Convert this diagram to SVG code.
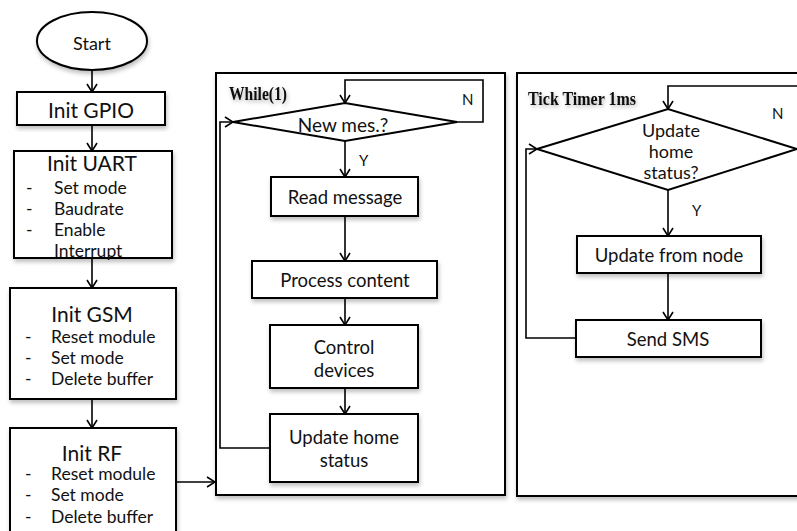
<svg xmlns="http://www.w3.org/2000/svg" width="797" height="531" viewBox="0 0 797 531">
<defs>
<style>
.box{fill:#fff;stroke:#000;stroke-width:2;filter:url(#sh)}
.frame{fill:#fff;stroke:#000;stroke-width:2;filter:url(#sh)}
.ln{fill:none;stroke:#000;stroke-width:1.6}
.t{font-family:Lato,"Liberation Sans",sans-serif;font-size:18.5px;fill:#111;text-anchor:middle;dominant-baseline:central}
.dt{font-family:Lato,"Liberation Sans",sans-serif;font-size:18px;fill:#111;text-anchor:middle;dominant-baseline:central}
.tt{font-family:Lato,"Liberation Sans",sans-serif;font-size:21px;fill:#111;text-anchor:middle;dominant-baseline:central}
.it{font-family:Lato,"Liberation Sans",sans-serif;font-size:17.5px;fill:#111;dominant-baseline:central}
.lb{font-family:Lato,"Liberation Sans",sans-serif;font-size:15px;fill:#111;dominant-baseline:central}
.hd{font-family:"Liberation Serif",serif;font-weight:bold;font-size:19px;fill:#111;dominant-baseline:central;filter:url(#gl)}
</style>
<filter id="sh" x="-10%" y="-10%" width="130%" height="130%">
<feDropShadow dx="1" dy="3" stdDeviation="2" flood-color="#000" flood-opacity="0.25"/>
</filter>
<filter id="gl" x="-20%" y="-40%" width="140%" height="200%">
<feDropShadow dx="1" dy="2" stdDeviation="2" flood-color="#000" flood-opacity="0.3"/>
</filter>
<marker id="ar" viewBox="0 0 10 12" refX="9" refY="6" markerWidth="10" markerHeight="12" markerUnits="userSpaceOnUse" orient="auto">
<path d="M1,1 L9,6 L1,11" fill="none" stroke="#000" stroke-width="1.6"/>
</marker>
</defs>

<g id="while-frame">
<rect class="frame" x="216" y="73" width="289" height="422"/>
<text class="hd" x="229" y="93" textLength="58" lengthAdjust="spacingAndGlyphs">While(1)</text>
</g>
<g id="tick-frame">
<rect class="frame" x="517" y="73" width="300" height="423"/>
<text class="hd" x="528" y="98" textLength="108" lengthAdjust="spacingAndGlyphs">Tick Timer 1ms</text>
</g>

<g id="connectors">
<line class="ln" x1="92" y1="70" x2="92" y2="92" marker-end="url(#ar)"/>
<line class="ln" x1="92" y1="125" x2="92" y2="151" marker-end="url(#ar)"/>
<line class="ln" x1="92" y1="258" x2="92" y2="288" marker-end="url(#ar)"/>
<line class="ln" x1="92" y1="399" x2="92" y2="428" marker-end="url(#ar)"/>
<line class="ln" x1="176" y1="482" x2="215" y2="482" marker-end="url(#ar)"/>
<polyline class="ln" points="457,122 483,122 483,80 345,80 345,103" marker-end="url(#ar)"/>
<line class="ln" x1="345" y1="141" x2="345" y2="177" marker-end="url(#ar)"/>
<line class="ln" x1="345" y1="216" x2="345" y2="261" marker-end="url(#ar)"/>
<line class="ln" x1="345" y1="298" x2="345" y2="325" marker-end="url(#ar)"/>
<line class="ln" x1="345" y1="388" x2="345" y2="414" marker-end="url(#ar)"/>
<polyline class="ln" points="270,448 220,448 220,122 233,122" marker-end="url(#ar)"/>
<polyline class="ln" points="800,86 668,86 668,109" marker-end="url(#ar)"/>
<line class="ln" x1="668" y1="190" x2="668" y2="236" marker-end="url(#ar)"/>
<line class="ln" x1="668" y1="273" x2="668" y2="320" marker-end="url(#ar)"/>
<polyline class="ln" points="576,338 526,338 526,149 537,149" marker-end="url(#ar)"/>
<text class="lb" x="462" y="99">N</text>
<text class="lb" x="359" y="160">Y</text>
<text class="lb" x="772" y="113">N</text>
<text class="lb" x="692" y="210">Y</text>
</g>

<g id="start">
<ellipse cx="92" cy="41" rx="55" ry="29" fill="#fff" stroke="#000" stroke-width="2" filter="url(#sh)"/>
<text class="dt" x="92" y="43">Start</text>
</g>
<g id="init-gpio">
<rect class="box" x="17" y="92" width="148" height="33"/>
<text class="tt" x="91" y="109">Init GPIO</text>
</g>
<g id="init-uart">
<rect class="box" x="14" y="151" width="158" height="107"/>
<text class="tt" x="92" y="162">Init UART</text>
<text class="it" x="26" y="187">-</text><text class="it" x="54" y="187">Set mode</text>
<text class="it" x="26" y="208">-</text><text class="it" x="54" y="208">Baudrate</text>
<text class="it" x="26" y="229">-</text><text class="it" x="54" y="229">Enable</text>
<text class="it" x="54" y="250">Interrupt</text>
</g>
<g id="init-gsm">
<rect class="box" x="10" y="288" width="166" height="111"/>
<text class="tt" x="92" y="313">Init GSM</text>
<text class="it" x="25" y="336">-</text><text class="it" x="51" y="336">Reset module</text>
<text class="it" x="25" y="357">-</text><text class="it" x="51" y="357">Set mode</text>
<text class="it" x="25" y="378">-</text><text class="it" x="51" y="378">Delete buffer</text>
</g>
<g id="init-rf">
<rect class="box" x="10" y="428" width="166" height="112"/>
<text class="tt" x="92" y="452">Init RF</text>
<text class="it" x="25" y="473">-</text><text class="it" x="51" y="473">Reset module</text>
<text class="it" x="25" y="494">-</text><text class="it" x="51" y="494">Set mode</text>
<text class="it" x="25" y="516">-</text><text class="it" x="51" y="516">Delete buffer</text>
</g>

<g id="new-mes">
<polygon points="233,122 345,103 457,122 345,141" fill="#fff" stroke="#000" stroke-width="2"/>
<text class="dt" x="343" y="124" style="font-size:19px">New mes.?</text>
</g>
<g id="read-message">
<rect class="box" x="271" y="177" width="147" height="39"/>
<text class="t" x="345" y="197">Read message</text>
</g>
<g id="process-content">
<rect class="box" x="252" y="261" width="185" height="37"/>
<text class="t" x="345" y="280">Process content</text>
</g>
<g id="control-devices">
<rect class="box" x="270" y="325" width="148" height="63"/>
<text class="t" x="344" y="347">Control</text>
<text class="t" x="344" y="370">devices</text>
</g>
<g id="update-home-status">
<rect class="box" x="270" y="414" width="148" height="68"/>
<text class="t" x="344" y="437">Update home</text>
<text class="t" x="344" y="460">status</text>
</g>

<g id="update-home-q">
<polygon points="537,149 668,109 797,149 668,190" fill="#fff" stroke="#000" stroke-width="2"/>
<text class="dt" x="671" y="130">Update</text>
<text class="dt" x="671" y="151">home</text>
<text class="dt" x="671" y="172">status?</text>
</g>
<g id="update-from-node">
<rect class="box" x="577" y="236" width="184" height="37"/>
<text class="t" x="669" y="255">Update from node</text>
</g>
<g id="send-sms">
<rect class="box" x="576" y="320" width="185" height="37"/>
<text class="t" x="668" y="339">Send SMS</text>
</g>
</svg>
